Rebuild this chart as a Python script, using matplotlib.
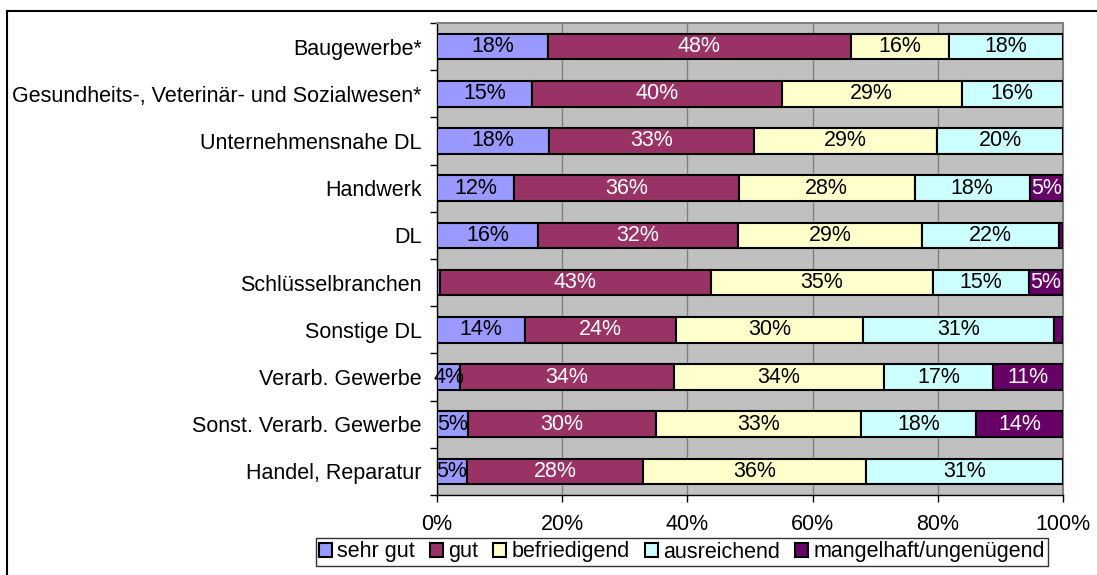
import matplotlib.pyplot as plt
import numpy as np
from matplotlib.patches import Rectangle

plt.rcParams['font.family'] = ['Liberation Sans', 'DejaVu Sans']

# Data (top to bottom)
branchen = ["Baugewerbe*", "Gesundheits-, Veterinär- und Sozialwesen*",
            "Unternehmensnahe DL", "Handwerk", "DL", "Schlüsselbranchen",
            "Sonstige DL", "Verarb. Gewerbe", "Sonst. Verarb. Gewerbe",
            "Handel, Reparatur"]
noten = ["sehr gut", "gut", "befriedigend", "ausreichend", "mangelhaft/ungenügend"]

sehr_gut = [17.7, 15.1, 17.9, 12.3, 16.1, 0.4, 14.0, 3.7, 5.0, 4.8]
gut = [48.4, 40.0, 32.8, 35.9, 32.0, 43.4, 24.2, 34.1, 30.0, 28.1]
befriedigend = [15.7, 28.7, 29.2, 28.1, 29.4, 35.4, 29.8, 33.6, 32.8, 35.7]
ausreichend = [18.2, 16.2, 20.1, 18.4, 21.9, 15.4, 30.6, 17.4, 18.3, 31.4]
mangelhaft = [0.0, 0.0, 0.0, 5.3, 0.6, 5.4, 1.4, 11.2, 13.9, 0.0]

farben = ["#9999FF", "#993366", "#FFFFCC", "#CCFFFF", "#660066"]
textfarben = ["black", "white", "black", "black", "white"]

serien = [sehr_gut, gut, befriedigend, ausreichend, mangelhaft]

fs = 15.5

fig = plt.figure(figsize=(10.97, 5.75), dpi=100)
ax = fig.add_axes([437 / 1097, 1 - 495 / 575, 626 / 1097, 472 / 575])
ax.set_facecolor("#C0C0C0")

y = np.arange(len(branchen))
links = np.zeros(len(branchen))
for werte, name, farbe, tf in zip(serien, noten, farben, textfarben):
    werte = np.array(werte)
    bars = ax.barh(y, werte, left=links, height=0.54, color=farbe,
                   edgecolor="black", linewidth=1.5, label=name, zorder=3)
    for b, w in zip(bars, werte):
        if w >= 3:
            ax.text(b.get_x() + b.get_width() / 2, b.get_y() + b.get_height() / 2,
                    f"{w:.0f}%", ha="center", va="center", color=tf,
                    fontsize=fs, zorder=4)
    links += werte

ax.set_xlim(0, 100)
ax.set_ylim(len(branchen) - 0.5, -0.5)
ax.set_xticks(np.arange(0, 101, 20))
ax.set_xticklabels([f"{v}%" for v in range(0, 101, 20)], fontsize=fs)
ax.set_yticks(y)
ax.set_yticklabels(branchen, fontsize=fs)
ax.set_yticks(np.arange(-0.5, len(branchen), 1), minor=True)
ax.tick_params(axis="y", which="major", length=0, pad=11)
ax.tick_params(axis="y", which="minor", length=5, width=1)
ax.tick_params(axis="x", length=5, width=1, pad=9)
ax.grid(axis="x", color="#808080", linewidth=1, zorder=0)

for s in ["top", "right"]:
    ax.spines[s].set_color("#808080")
    ax.spines[s].set_linewidth(1.5)
for s in ["left", "bottom"]:
    ax.spines[s].set_color("black")
    ax.spines[s].set_linewidth(1)

leg = fig.legend(loc="center", bbox_to_anchor=(682 / 1097, 1 - 552 / 575),
                 ncol=5, fontsize=fs, frameon=True, fancybox=False,
                 edgecolor="black", handlelength=0.6, handleheight=0.6,
                 handletextpad=0.25, columnspacing=0.7, borderpad=0.15,
                 borderaxespad=0)
leg.get_frame().set_linewidth(1)

fig.patches.append(Rectangle((7 / 1097, -0.1), 1.2, 0.1 + (1 - 11 / 575),
                             transform=fig.transFigure, fill=False,
                             edgecolor="black", linewidth=1.5))

plt.savefig("out.png", dpi=100)
plt.close()
